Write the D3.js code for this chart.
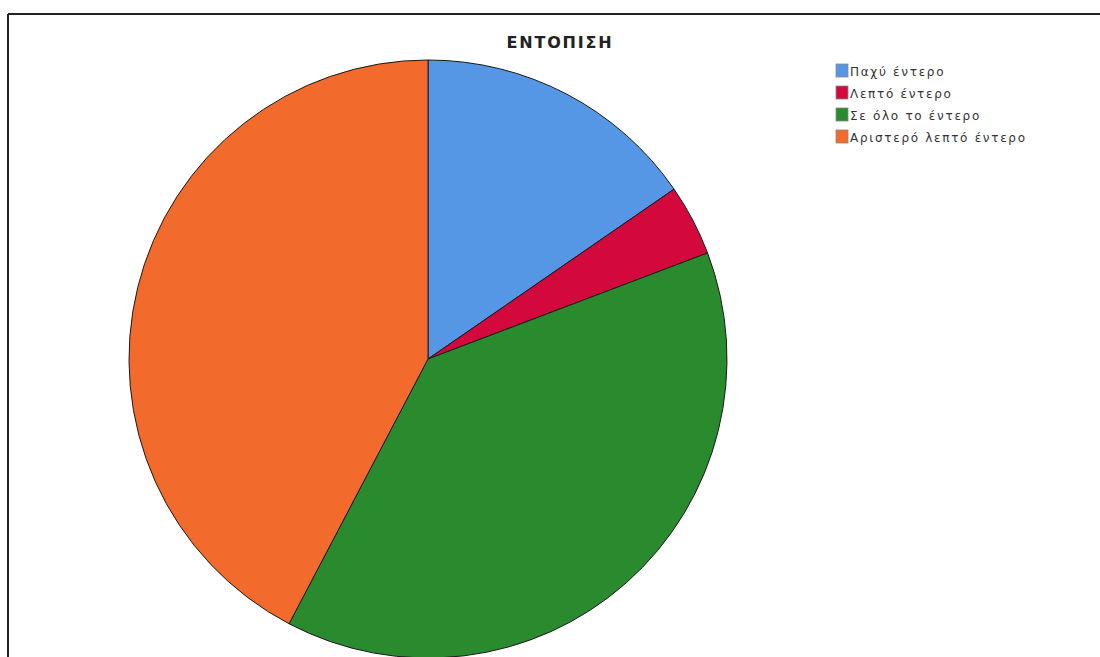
<!DOCTYPE html>
<html>
<head>
<meta charset="utf-8">
<script src="https://cdn.jsdelivr.net/npm/d3@7"></script>
<style>
  html, body { margin: 0; padding: 0; background: #fff; }
  svg { display: block; }
</style>
</head>
<body>
<svg id="chart" width="1100" height="657"></svg>
<script>
// Localisation categories and case counts
const categories = ["Παχύ έντερο", "Λεπτό έντερο", "Σε όλο το έντερο", "Αριστερό λεπτό έντερο"];
const counts = [4, 1, 10, 11];
const colors = ["#5597e4", "#d3083c", "#2a8a2e", "#f26b2d"];
const title = "ΕΝΤΟΠΙΣΗ";

const svg = d3.select("#chart");
const W = 1100, H = 657;

// frame lines along top and left
svg.append("line").attr("x1", 8).attr("y1", 14).attr("x2", W).attr("y2", 14)
  .attr("stroke", "#222").attr("stroke-width", 2);
svg.append("line").attr("x1", 8).attr("y1", 14).attr("x2", 8).attr("y2", H)
  .attr("stroke", "#222").attr("stroke-width", 2);

// title
svg.append("text")
  .attr("x", 560).attr("y", 48)
  .attr("text-anchor", "middle")
  .attr("font-family", "DejaVu Sans, sans-serif")
  .attr("font-weight", "bold")
  .attr("font-size", 16)
  .attr("letter-spacing", 1.8)
  .attr("fill", "#222")
  .text(title);

// pie
const cx = 428, cy = 359, r = 299;
const data = categories.map((c, i) => ({ name: c, value: counts[i], color: colors[i] }));
const pie = d3.pie().value(d => d.value).sort(null);
const arc = d3.arc().innerRadius(0).outerRadius(r);

svg.append("g")
  .attr("transform", `translate(${cx},${cy})`)
  .selectAll("path")
  .data(pie(data))
  .join("path")
  .attr("d", arc)
  .attr("fill", d => d.data.color)
  .attr("stroke", "#1a1a1a")
  .attr("stroke-width", 1)
  .attr("stroke-linejoin", "round");

// legend
const legend = svg.append("g").attr("transform", "translate(836,64)");
const rowH = 22;
const rows = legend.selectAll("g")
  .data(data)
  .join("g")
  .attr("transform", (d, i) => `translate(0,${i * rowH})`);
rows.append("rect")
  .attr("width", 12).attr("height", 13)
  .attr("fill", d => d.color)
  .attr("stroke", "#888").attr("stroke-width", 0.8);
rows.append("text")
  .attr("x", 14).attr("y", 12)
  .attr("font-family", "DejaVu Sans, sans-serif")
  .attr("font-size", 12)
  .attr("letter-spacing", 1.7)
  .attr("fill", "#333")
  .text(d => d.name);
</script>
</body>
</html>
